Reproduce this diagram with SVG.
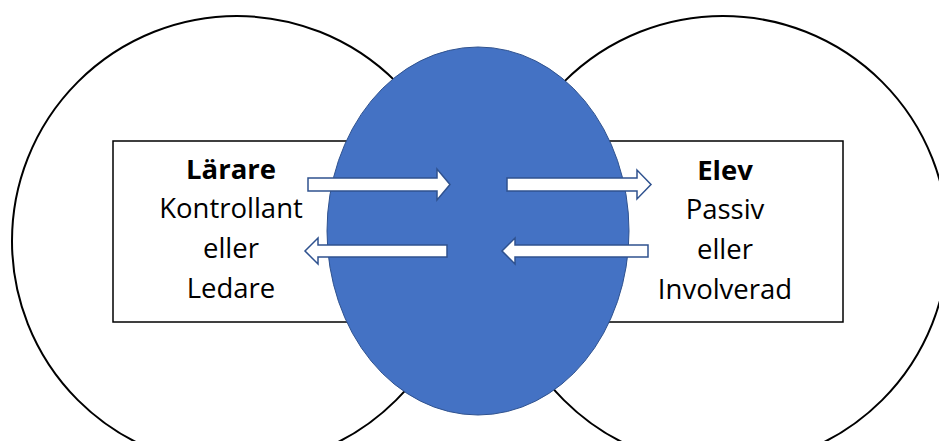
<svg xmlns="http://www.w3.org/2000/svg" width="939" height="441" viewBox="0 0 939 441">
  <style>
    .ring { fill: #ffffff; stroke: #000000; stroke-width: 2; }
    .box { fill: #ffffff; stroke: #000000; stroke-width: 1.5; }
    .core { fill: #4472C4; stroke: #2F528F; stroke-width: 1; }
    .flow { fill: #ffffff; stroke: #2F528F; stroke-width: 1.5; stroke-linejoin: miter; }
    .label { font-family: "Open Sans", "Noto Sans", sans-serif; font-size: 27.5px; fill: #000000; text-anchor: middle; }
    .title { font-weight: bold; }
  </style>
  <rect width="939" height="441" fill="#ffffff"/>

  <!-- outer circles -->
  <g id="teacher-circle">
    <circle class="ring" cx="237" cy="241" r="225"/>
  </g>
  <g id="student-circle">
    <circle class="ring" cx="723" cy="241" r="225"/>
  </g>

  <!-- role boxes -->
  <g id="teacher-box">
    <rect class="box" x="113" y="141" width="290" height="181"/>
    <text class="label title" x="231" y="179">Lärare</text>
    <text class="label" x="231" y="218">Kontrollant</text>
    <text class="label" x="231" y="258">eller</text>
    <text class="label" x="231" y="298">Ledare</text>
  </g>
  <g id="student-box">
    <rect class="box" x="553" y="141" width="290" height="181"/>
    <text class="label title" x="725" y="180">Elev</text>
    <text class="label" x="725" y="219">Passiv</text>
    <text class="label" x="725" y="259">eller</text>
    <text class="label" x="725" y="299">Involverad</text>
  </g>

  <!-- shared centre, drawn over the inner ends of both boxes -->
  <g id="centre">
    <ellipse class="core" cx="478" cy="231" rx="151" ry="184"/>
  </g>

  <!-- block arrows -->
  <g id="connectors">
    <path class="flow" d="M308,178 H437 V169 L450,184.5 L437,200 V191 H308 Z"/>
    <path class="flow" d="M507,178 H637 V170 L651,184.5 L637,199 V191 H507 Z"/>
    <path class="flow" d="M447,245 H318 V238 L305,251 L318,264 V257 H447 Z"/>
    <path class="flow" d="M648,245 H515 V238 L502,251 L515,264 V257 H648 Z"/>
  </g>
</svg>
